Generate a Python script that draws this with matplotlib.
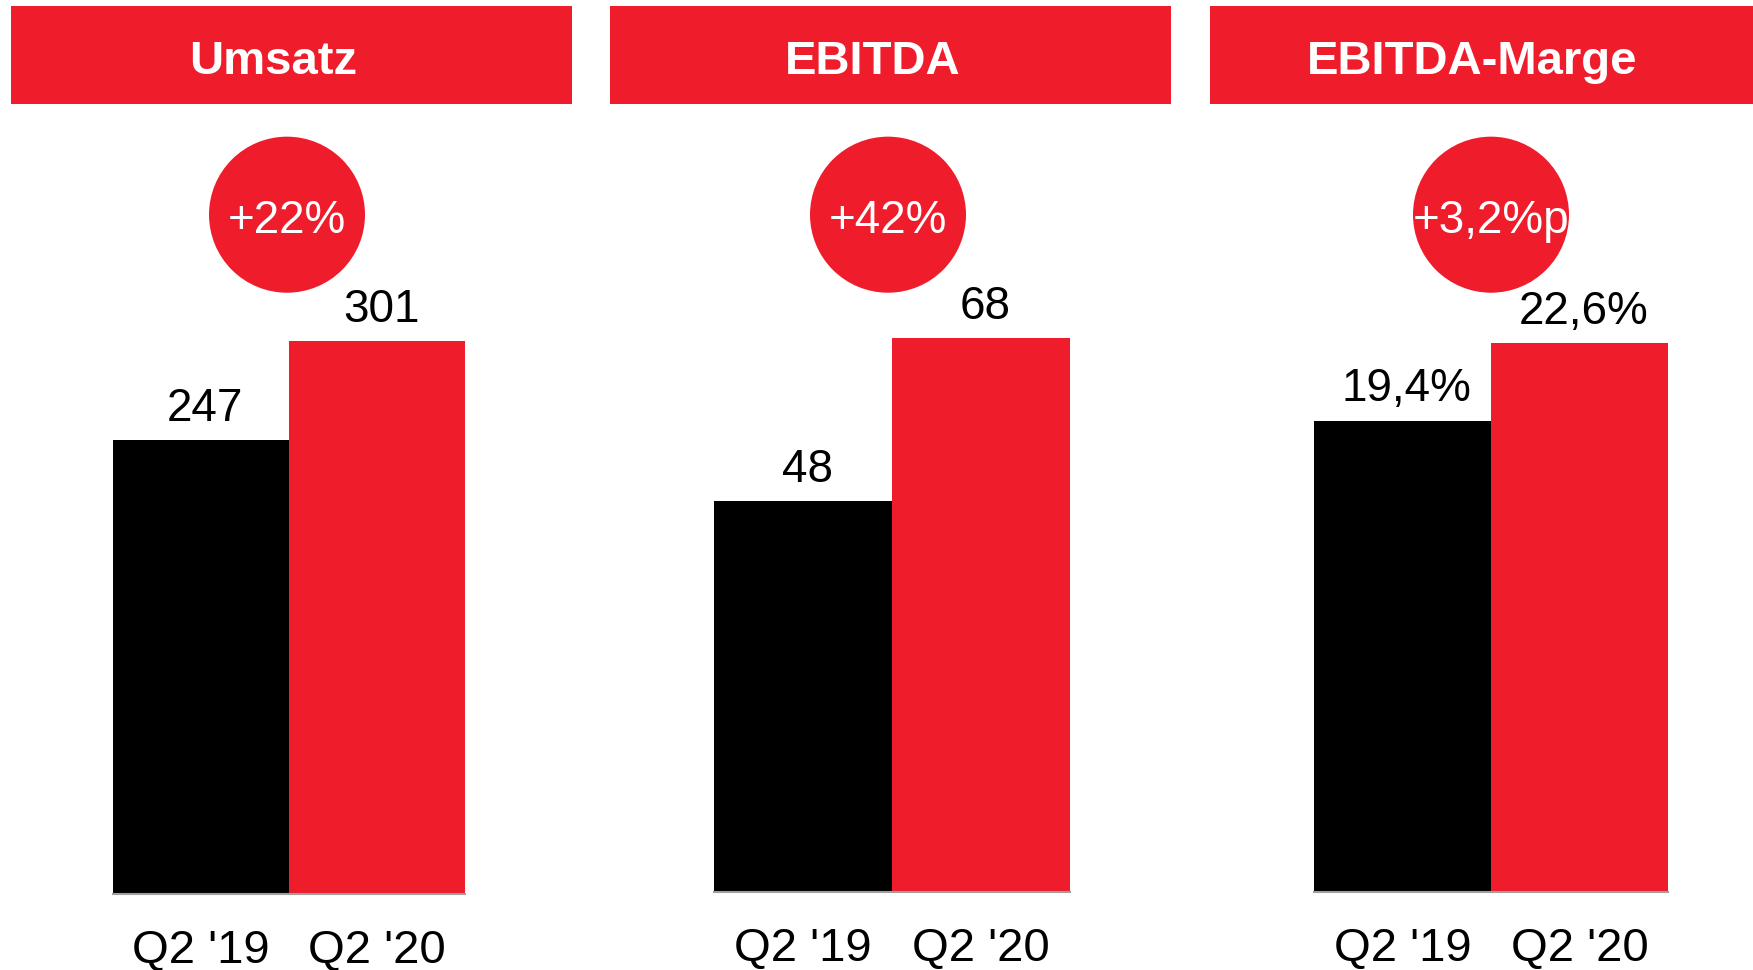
import matplotlib
matplotlib.use('Agg')
import matplotlib.pyplot as plt
from matplotlib.patches import Rectangle, Ellipse

plt.rcParams['font.family'] = ['Liberation Sans', 'DejaVu Sans']

# data
titles = ['Umsatz', 'EBITDA', 'EBITDA-Marge']
periods = ["Q2 '19", "Q2 '20"]
umsatz = [247, 301]
ebitda = [48, 68]
marge = [19.4, 22.6]
value_labels = [['247', '301'], ['48', '68'], ['19,4%', '22,6%']]
changes = ['+22%', '+42%', '+3,2%p']

RED = '#EF1C2C'
W, H = 1753, 970

# layout in pixels, measured from the top left corner
header_x = [11, 610, 1210]
header_w = 561
header_top, header_bot = 6, 104
bar_left = [113, 714, 1314]
bar_right = [465, 1070, 1668]
base_y = [894, 892, 892]
top_y = [341, 338, 343]
circle_x = [287, 888, 1491]
circle_y = 215
circle_r = 78

fig = plt.figure(figsize=(W / 100, H / 100 + 0.004), dpi=100)

for k, vals in enumerate([umsatz, ebitda, marge]):
    # header bar with title
    fig.add_artist(Rectangle((header_x[k] / W, 1 - header_bot / H),
                             header_w / W, (header_bot - header_top) / H,
                             transform=fig.transFigure, color=RED, lw=0))
    fig.text((header_x[k] + header_w / 2 - 18) / W, 1 - 74 / H, titles[k],
             color='white', fontsize=34, fontweight='bold',
             ha='center', va='baseline')

    # change bubble
    fig.add_artist(Ellipse((circle_x[k] / W, 1 - circle_y / H),
                           2 * circle_r / W, 2 * circle_r / H,
                           transform=fig.transFigure, color=RED, lw=0))
    fig.text(circle_x[k] / W, 1 - 233 / H, changes[k], color='white',
             fontsize=33, ha='center', va='baseline')

    # bars
    ax = fig.add_axes([bar_left[k] / W, 1 - base_y[k] / H,
                       (bar_right[k] - bar_left[k]) / W,
                       (base_y[k] - top_y[k]) / H])
    ax.bar([0, 1], vals, width=1.0, color=['black', RED])
    ax.set_xlim(-0.5, 1.5)
    ax.set_ylim(0, max(vals))
    for s in ['top', 'right', 'left']:
        ax.spines[s].set_visible(False)
    ax.spines['bottom'].set_color('#A0A0A0')
    ax.spines['bottom'].set_linewidth(1.5)
    ax.set_yticks([])
    ax.set_xticks([0, 1], periods, fontsize=34)
    ax.tick_params(axis='x', length=0, pad=25)
    for i, v in enumerate(vals):
        ax.annotate(value_labels[k][i], (i, v), xytext=(3, 14),
                    textcoords='offset points', ha='center', va='baseline',
                    fontsize=33)

fig.savefig('out.png', dpi=100)
